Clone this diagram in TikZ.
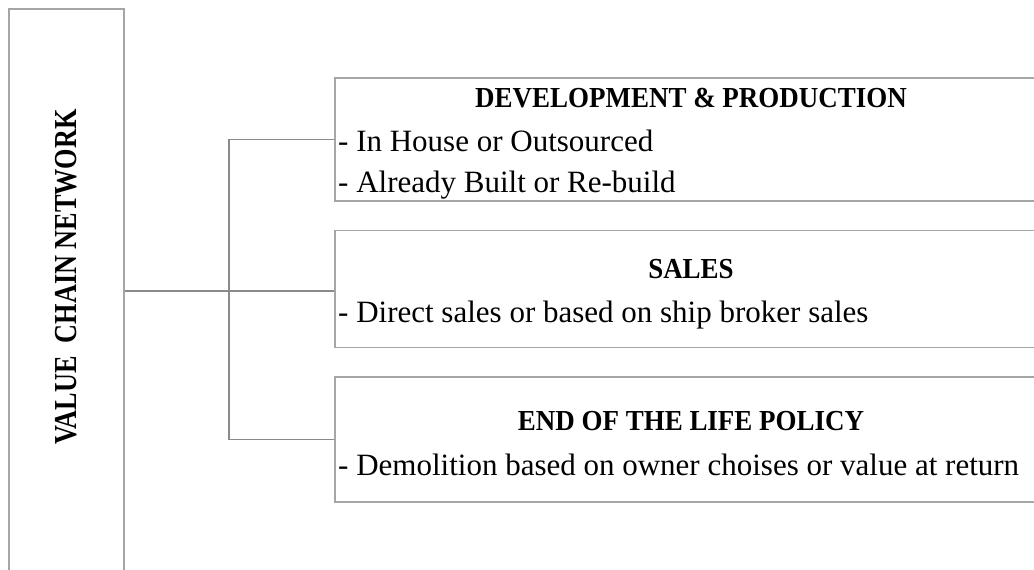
\documentclass[tikz,border=0pt]{standalone}
\usepackage{fontspec}
\setmainfont{Liberation Serif}
\definecolor{boxgray}{HTML}{A5A5A5}
\definecolor{linkgray}{HTML}{8A8A8A}
\newcommand{\headtext}[1]{\scalebox{0.93}[1]{#1}}
\begin{document}
\begin{tikzpicture}[x=1pt,y=-1pt,
  panel/.style={draw=boxgray, line width=1.6pt, rectangle, inner sep=0pt},
  conn/.style={draw=linkgray, line width=1.8pt},
  head/.style={font=\fontsize{29}{34}\selectfont\bfseries, anchor=base, inner sep=0pt},
  item/.style={font=\fontsize{31}{37}\selectfont, anchor=base west, inner sep=0pt}]
\useasboundingbox (0,0) rectangle (1034,570);
\clip (0,0) rectangle (1034,570);

% tall left panel with its vertical caption
\node[panel, minimum width=115pt, minimum height=580pt] (vcn) at (66.5,299) {};
\node[rotate=90, font=\fontsize{32}{38}\selectfont\bfseries, inner sep=0pt] (vcntitle)
  at (66,277) {\scalebox{0.82}[1]{VALUE\ \ CHAIN NETWORK}};

% three branch panels
\node[panel, minimum width=712pt, minimum height=123pt] (dev) at (691,139.5) {};
\node[panel, minimum width=712pt, minimum height=117pt] (sales) at (691,289) {};
\node[panel, minimum width=712pt, minimum height=125pt] (eol) at (691,439.5) {};

\node[head] (devhead) at (691,107) {\headtext{DEVELOPMENT \& PRODUCTION}};
\node[item] (dev1) at (338,151) {- In House or Outsourced};
\node[item] (dev2) at (338,192) {- Already Built or Re-build};

\node[head] (saleshead) at (691,278) {\headtext{SALES}};
\node[item] (sales1) at (338,322) {- Direct sales or based on ship broker sales};

\node[head] (eolhead) at (691,430) {\headtext{END OF THE LIFE POLICY}};
\node[item] (eol1) at (338,475) {- Demolition based on owner choises or value at return};

% bracket connectors
\coordinate (hub) at (229,291);
\draw[conn] (dev.west) -| (hub) |- (eol.west);
\draw[conn] (vcn.east |- hub) -- (sales.west |- hub);
\end{tikzpicture}
\end{document}
